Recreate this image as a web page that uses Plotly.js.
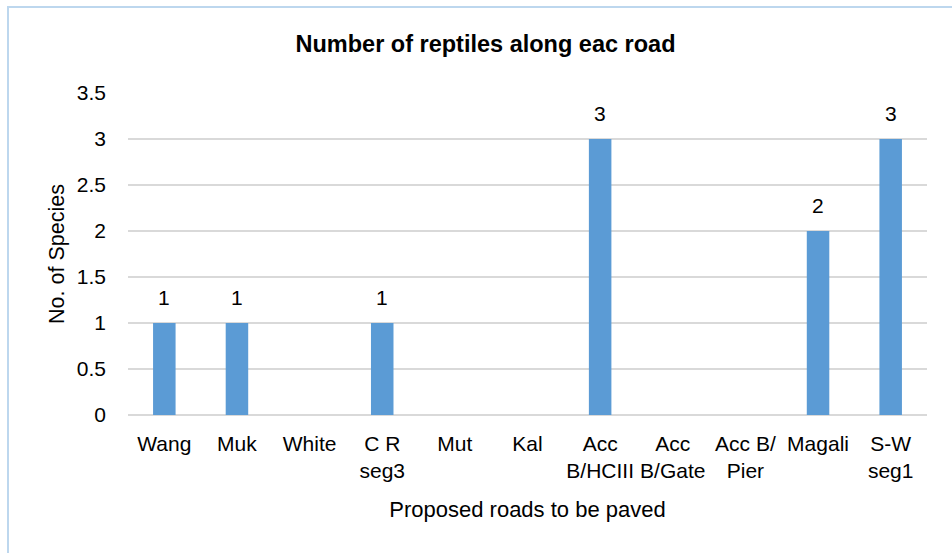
<!DOCTYPE html>
<html>
<head>
<meta charset="utf-8">
<script src="https://cdn.plot.ly/plotly-3.0.1.min.js"></script>
<style>
  html, body { margin: 0; padding: 0; background: #ffffff; }
  #wrap { position: relative; width: 952px; height: 553px; overflow: hidden; }
  #chart { position: absolute; left: 0; top: 0; width: 952px; height: 553px; }
  #frame { position: absolute; left: 7px; top: 6px; width: 960px; height: 560px;
           border: 2px solid #bdd7ee; pointer-events: none; }
</style>
</head>
<body>
<div id="wrap">
  <div id="chart"></div>
  <div id="frame"></div>
</div>
<script>
// Roads proposed for paving and reptile species counted along each
const roads = ["Wang", "Muk", "White", "C R<br>seg3", "Mut", "Kal",
               "Acc<br>B/HCIII", "Acc<br>B/Gate", "Acc B/<br>Pier", "Magali", "S-W<br>seg1"];
const species = [1, 1, 0, 1, 0, 0, 3, 0, 0, 2, 3];
const yTicks = [0, 0.5, 1, 1.5, 2, 2.5, 3, 3.5];

const font = "Liberation Sans, Arial, sans-serif";

const trace = {
  type: "bar",
  x: roads,
  y: species,
  marker: { color: "#5b9bd5" },
  hoverinfo: "x+y"
};

// value labels above the non-empty bars
const labels = roads.map((r, i) => ({ r, v: species[i] }))
  .filter(d => d.v > 0)
  .map(d => ({
    x: d.r, y: d.v, xref: "x", yref: "y",
    text: String(d.v), showarrow: false,
    yanchor: "bottom", yshift: 12,
    font: { family: font, size: 21, color: "#000000" }
  }));

const layout = {
  width: 952, height: 553,
  margin: { l: 128, r: 25, t: 93, b: 138 },
  paper_bgcolor: "#ffffff",
  plot_bgcolor: "#ffffff",
  showlegend: false,
  bargap: 0.69,
  title: {
    text: "<b>Number of reptiles along eac road</b>",
    font: { family: font, size: 23.5, color: "#000000" },
    x: 0.51, xref: "container", xanchor: "center",
    y: 0.92, yref: "container", yanchor: "middle"
  },
  xaxis: {
    type: "category",
    showgrid: false,
    showline: false,
    zeroline: false,
    ticks: "",
    tickangle: 0,
    ticklabelstandoff: 14,
    tickfont: { family: font, size: 21, color: "#000000" },
    title: {
      text: "Proposed roads to be paved",
      font: { family: font, size: 22, color: "#000000" },
      standoff: 20
    }
  },
  yaxis: {
    range: [0, 3.5],
    tickvals: yTicks,
    ticktext: yTicks.map(String),
    showgrid: true,
    gridcolor: "#d9d9d9",
    gridwidth: 1.5,
    zeroline: true,
    zerolinecolor: "#d9d9d9",
    zerolinewidth: 1.5,
    showline: false,
    ticks: "",
    ticklabelstandoff: 21,
    tickfont: { family: font, size: 21, color: "#000000" },
    title: {
      text: "No. of Species",
      font: { family: font, size: 21.5, color: "#000000" },
      standoff: 6
    }
  },
  annotations: labels
};

Plotly.newPlot("chart", [trace], layout, { displayModeBar: false, staticPlot: true });
</script>
</body>
</html>
